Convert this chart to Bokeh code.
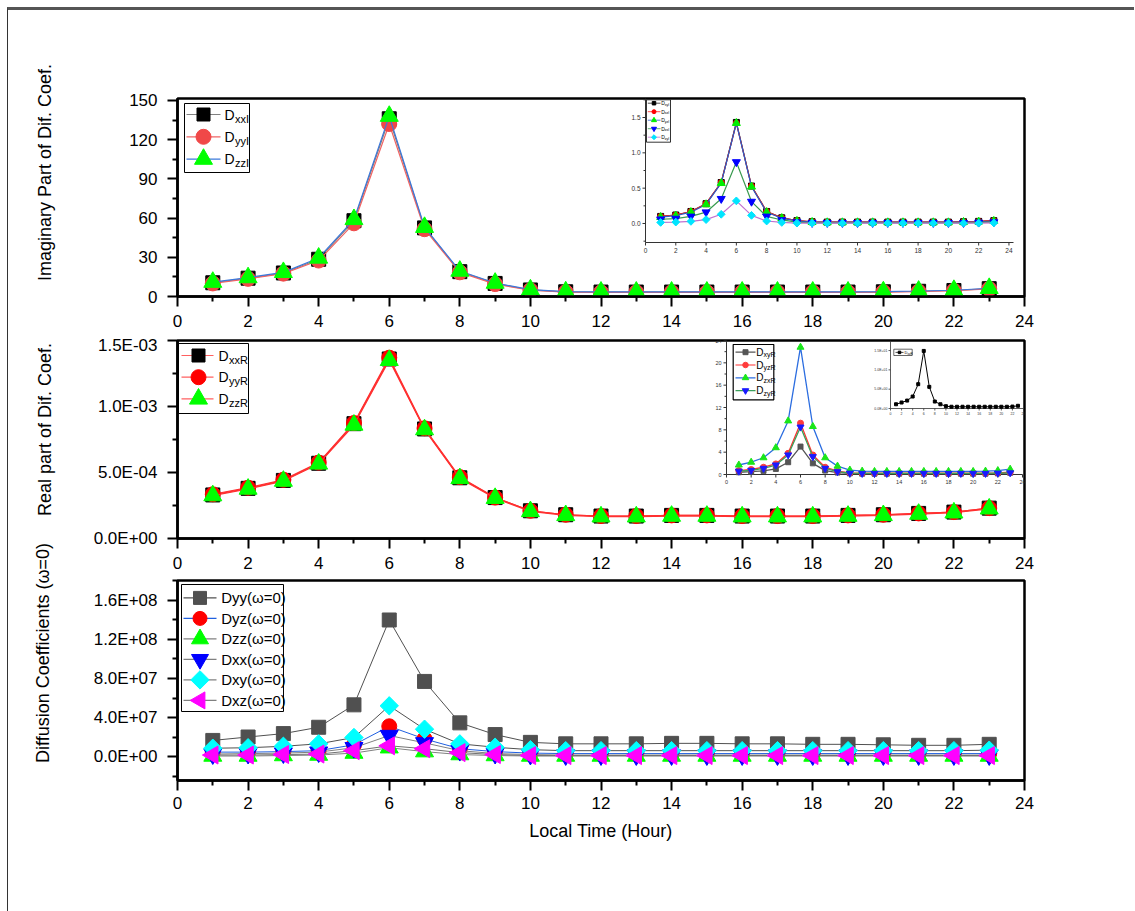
from bokeh.plotting import figure
from bokeh.layouts import column
from bokeh.models import Range1d, FixedTicker, CustomJSTickFormatter
from bokeh.core.properties import value
from bokeh.embed import file_html
from bokeh.resources import INLINE

FONT = "Liberation Sans"
NB = "\u00a0"

# ---------------- data ----------------
hours = [1, 2, 3, 4, 5, 6, 7, 8, 9, 10, 11, 12, 13, 14, 15, 16, 17, 18, 19, 20, 21, 22, 23]
x_major = [0, 2, 4, 6, 8, 10, 12, 14, 16, 18, 20, 22, 24]
x_minor = [1, 3, 5, 7, 9, 11, 13, 15, 17, 19, 21, 23]
x_labels = ["0", "2", "4", "6", "8", "10", "12", "14", "16", "18", "20", "22", "24"]

# panel 1 : imaginary part (diagonal)
p1_names = [("D", "xxI"), ("D", "yyI"), ("D", "zzI")]
dxxI = [10.5, 14, 18, 28.5, 58, 136, 52.5, 19, 10, 5, 3.6, 3.4, 3.4, 3.4, 3.4, 3.4, 3.4, 3.4, 3.4, 3.6, 4.0, 4.6, 6.0]
dyyI = [10, 13.5, 17.5, 27.5, 56, 132, 51.5, 18.5, 9.5, 4.8, 3.4, 3.2, 3.2, 3.2, 3.2, 3.2, 3.2, 3.2, 3.2, 3.4, 3.8, 4.4, 5.8]
dzzI = [11, 14.5, 18.5, 29.5, 59, 138, 53, 19.5, 10.3, 5.2, 3.7, 3.5, 3.5, 3.5, 3.5, 3.5, 3.5, 3.5, 3.5, 3.7, 4.2, 4.8, 6.3]
p1_yticks = [0, 30, 60, 90, 120, 150]
p1_yminor = [15, 45, 75, 105, 135]

# inset of panel 1 : imaginary part (off-diagonal)
i1_names = [("D", "xyI"), ("D", "xzI"), ("D", "yzI"), ("D", "zxI"), ("D", "zyI")]
i1_a = [0.10, 0.12, 0.17, 0.28, 0.58, 1.43, 0.53, 0.17, 0.08, 0.04, 0.025, 0.02, 0.02, 0.02, 0.02, 0.02, 0.02, 0.02, 0.02, 0.02, 0.025, 0.03, 0.04]
i1_b = [0.10, 0.12, 0.17, 0.28, 0.58, 1.42, 0.53, 0.17, 0.08, 0.04, 0.025, 0.02, 0.02, 0.02, 0.02, 0.02, 0.02, 0.02, 0.02, 0.02, 0.025, 0.03, 0.04]
i1_c = [0.09, 0.11, 0.16, 0.27, 0.57, 1.42, 0.52, 0.16, 0.075, 0.035, 0.02, 0.015, 0.015, 0.015, 0.015, 0.015, 0.015, 0.015, 0.015, 0.015, 0.02, 0.025, 0.035]
i1_d = [0.06, 0.07, 0.10, 0.16, 0.35, 0.87, 0.31, 0.10, 0.05, 0.02, 0.01, 0.01, 0.01, 0.01, 0.01, 0.01, 0.01, 0.01, 0.01, 0.01, 0.01, 0.015, 0.02]
i1_e = [0.015, 0.02, 0.03, 0.055, 0.13, 0.32, 0.115, 0.035, 0.015, 0.005, 0.005, 0.005, 0.005, 0.005, 0.005, 0.005, 0.005, 0.005, 0.005, 0.005, 0.005, 0.005, 0.008]
i1_yticks = [0.0, 0.5, 1.0, 1.5]
i1_ylabels = ["0.0", "0.5", "1.0", "1.5"]
i1_yminor = [-0.25, 0.25, 0.75, 1.25, 1.75]

# panel 2 : real part (diagonal)
p2_names = [("D", "xxR"), ("D", "yyR"), ("D", "zzR")]
dxxR = [3.30e-4, 3.80e-4, 4.40e-4, 5.70e-4, 8.70e-4, 1.360e-3, 8.30e-4, 4.60e-4, 3.10e-4, 2.10e-4, 1.80e-4, 1.70e-4, 1.70e-4, 1.75e-4, 1.75e-4, 1.70e-4, 1.70e-4, 1.70e-4, 1.75e-4, 1.80e-4, 1.90e-4, 2.00e-4, 2.30e-4]
dyyR = [3.35e-4, 3.85e-4, 4.45e-4, 5.75e-4, 8.75e-4, 1.370e-3, 8.35e-4, 4.65e-4, 3.10e-4, 2.10e-4, 1.80e-4, 1.70e-4, 1.70e-4, 1.75e-4, 1.75e-4, 1.70e-4, 1.70e-4, 1.70e-4, 1.75e-4, 1.80e-4, 1.90e-4, 2.00e-4, 2.30e-4]
dzzR = [3.25e-4, 3.75e-4, 4.35e-4, 5.65e-4, 8.60e-4, 1.350e-3, 8.25e-4, 4.55e-4, 3.05e-4, 2.05e-4, 1.75e-4, 1.65e-4, 1.65e-4, 1.70e-4, 1.70e-4, 1.65e-4, 1.65e-4, 1.65e-4, 1.70e-4, 1.75e-4, 1.85e-4, 1.95e-4, 2.25e-4]
p2_yticks = [0.0, 5.0e-4, 1.0e-3, 1.5e-3]
p2_yminor = [2.5e-4, 7.5e-4, 1.25e-3]

# inset of panel 2 : real part (off-diagonal)
i2_names = [("D", "xyR"), ("D", "yzR"), ("D", "zxR"), ("D", "zyR")]
r_xy = [0.4, 0.5, 0.65, 1.0, 2.2, 5.0, 2.0, 0.7, 0.35, 0.2, 0.15, 0.15, 0.15, 0.15, 0.15, 0.15, 0.15, 0.15, 0.15, 0.15, 0.15, 0.2, 0.3]
r_yz = [0.7, 0.9, 1.3, 1.9, 3.8, 9.2, 3.5, 1.3, 0.6, 0.3, 0.25, 0.25, 0.25, 0.25, 0.25, 0.25, 0.25, 0.25, 0.25, 0.25, 0.25, 0.3, 0.4]
r_zx = [1.7, 2.2, 3.0, 4.8, 9.6, 22.8, 8.6, 3.0, 1.5, 0.8, 0.6, 0.55, 0.55, 0.55, 0.55, 0.55, 0.55, 0.55, 0.55, 0.55, 0.6, 0.7, 0.95]
r_zy = [0.6, 0.75, 1.1, 1.7, 3.5, 8.5, 3.2, 1.1, 0.5, 0.25, 0.2, 0.2, 0.2, 0.2, 0.2, 0.2, 0.2, 0.2, 0.2, 0.2, 0.2, 0.25, 0.3]
i2_yticks = [0, 4, 8, 12, 16, 20, 24]
i2_ylabels = ["0", "4", "8", "12", "16", "20", "24"]
i2_yminor = [2, 6, 10, 14, 18, 22]

# small inset inside inset 2
s_name = ("D", "xzR")
s_xz = [1.1, 1.55, 2.05, 3.1, 6.3, 14.9, 5.6, 1.8, 1.1, 0.6, 0.45, 0.45, 0.45, 0.45, 0.45, 0.45, 0.45, 0.45, 0.45, 0.45, 0.45, 0.5, 0.7]
s_yticks = [0, 5, 10, 15]
s_ylabels = ["0.0E+00", "5.0E+00", "1.0E+01", "1.5E+01"]

# panel 3 : static diffusion coefficients
p3_names = ["Dyy(\u03c9=0)", "Dyz(\u03c9=0)", "Dzz(\u03c9=0)", "Dxx(\u03c9=0)", "Dxy(\u03c9=0)", "Dxz(\u03c9=0)"]
dyy0 = [1.65e7, 2.0e7, 2.35e7, 3.0e7, 5.3e7, 1.40e8, 7.7e7, 3.45e7, 2.25e7, 1.45e7, 1.3e7, 1.3e7, 1.3e7, 1.35e7, 1.35e7, 1.3e7, 1.3e7, 1.25e7, 1.25e7, 1.2e7, 1.15e7, 1.15e7, 1.25e7]
dyz0 = [4.5e6, 4.5e6, 5.0e6, 6.0e6, 1.2e7, 3.1e7, 1.8e7, 8.0e6, 5.0e6, 3.5e6, 3.0e6, 3.0e6, 3.0e6, 3.0e6, 3.0e6, 3.0e6, 3.0e6, 3.0e6, 3.0e6, 3.0e6, 3.0e6, 3.0e6, 3.0e6]
dzz0 = [5.0e5, 5.0e5, 1.0e6, 1.5e6, 3.5e6, 9.0e6, 5.0e6, 2.0e6, 1.0e6, 5.0e5, 5.0e5, 5.0e5, 5.0e5, 5.0e5, 5.0e5, 5.0e5, 5.0e5, 5.0e5, 5.0e5, 5.0e5, 5.0e5, 5.0e5, 5.0e5]
dxx0 = [2.5e6, 3.0e6, 3.5e6, 4.5e6, 9.0e6, 2.15e7, 1.4e7, 6.0e6, 3.0e6, 2.0e6, 1.5e6, 1.5e6, 1.5e6, 1.5e6, 1.5e6, 1.5e6, 1.5e6, 1.5e6, 1.5e6, 1.5e6, 1.5e6, 1.5e6, 1.5e6]
dxy0 = [8.5e6, 9.0e6, 1.05e7, 1.3e7, 1.95e7, 5.2e7, 2.8e7, 1.3e7, 9.5e6, 7.0e6, 6.0e6, 6.0e6, 6.0e6, 6.0e6, 6.0e6, 6.0e6, 6.0e6, 6.0e6, 6.0e6, 6.0e6, 6.0e6, 6.0e6, 6.5e6]
dxz0 = [1.5e6, 1.5e6, 2.0e6, 2.5e6, 6.0e6, 1.1e7, 8.0e6, 4.0e6, 2.0e6, 1.0e6, 1.0e6, 1.0e6, 1.0e6, 1.0e6, 1.0e6, 1.0e6, 1.0e6, 1.0e6, 1.0e6, 1.0e6, 1.0e6, 1.0e6, 1.0e6]
p3_yticks = [0.0, 4.0e7, 8.0e7, 1.2e8, 1.6e8]
p3_yminor = [-2.0e7, 2.0e7, 6.0e7, 1.0e8, 1.4e8, 1.8e8]

# ---------------- helpers ----------------
SCI_JS = """
const s = tick.toExponential(1).toUpperCase();
const parts = s.split("E");
let e = parts[1];
const sign = e[0] === "-" ? "-" : "+";
e = e.replace("+", "").replace("-", "");
if (e.length < 2) { e = "0" + e; }
return parts[0] + "E" + sign + e;
"""

MBL, FW, RPAD = 169, 847, 110


def make_fig(mbt, fh, mbb, yr, **extra):
    p = figure(width=MBL + FW + RPAD, height=mbt + fh + mbb, x_range=Range1d(0, 24), y_range=yr,
               output_backend="svg", toolbar_location=None,
               min_border_left=MBL, min_border_right=RPAD,
               min_border_top=mbt, min_border_bottom=mbb, **extra)
    p.border_fill_color = None
    p.border_fill_alpha = 0
    p.background_fill_color = "white"
    p.outline_line_color = "black"
    p.outline_line_width = 2.5
    p.xgrid.visible = False
    p.ygrid.visible = False
    p.extra_x_ranges = {"px": Range1d(0, FW)}
    p.extra_y_ranges = {"py": Range1d(fh, 0)}
    p.xaxis.ticker = FixedTicker(ticks=x_major, minor_ticks=x_minor)
    for ax in (p.xaxis[0], p.yaxis[0]):
        ax.axis_line_width = 2.5
        ax.axis_line_color = "black"
        ax.major_tick_line_width = 2
        ax.minor_tick_line_width = 2
        ax.major_tick_out = 10
        ax.major_tick_in = 0
        ax.minor_tick_out = 5
        ax.minor_tick_in = 0
        ax.major_label_text_font = FONT
        ax.major_label_text_font_size = "17px"
        ax.major_label_text_color = "black"
        ax.axis_label_text_font = FONT
        ax.axis_label_text_font_style = "normal"
        ax.axis_label_text_font_size = "18px"
        ax.axis_label_text_color = "black"
    p.xaxis.major_label_standoff = 8
    p.yaxis.major_label_standoff = 10
    return p


def series(p, ys, lc, lw, marker, ms, fc, angle=0.0, **kw):
    p.line(hours, ys, line_color=lc, line_width=lw, **kw)
    p.scatter(hours, ys, marker=marker, size=ms, fill_color=fc, line_color=fc, angle=angle, **kw)


PX = dict(x_range_name="px", y_range_name="py")


def legend(p, bx, by, bw, bh, first, pitch, lx0, lx1, mx, tx, entries, fmain, fsub=None,
           sub_dx=0.0, sub_dy=0.0, border_w=1.0, lw=1.2):
    p.quad(left=[bx], right=[bx + bw], top=[by], bottom=[by + bh],
           fill_color="white", line_color="black", line_width=border_w, **PX)
    for i, e in enumerate(entries):
        y = by + first + i * pitch
        p.line([bx + lx0, bx + lx1], [y, y], line_color=e["lc"], line_width=lw, **PX)
        p.scatter([bx + mx], [y], marker=e["m"], size=e["s"], fill_color=e["fc"],
                  line_color=e["fc"], angle=e.get("a", 0.0), **PX)
        p.text([bx + tx], [y], text=[e["t"]], text_font=value(FONT), text_font_size=value(fmain),
               text_baseline="middle", text_align="left", text_color="black", **PX)
        if e.get("sub"):
            p.text([bx + tx + sub_dx], [y + sub_dy], text=[e["sub"]], text_font=value(FONT),
                   text_font_size=value(fsub), text_baseline="middle", text_align="left",
                   text_color="black", **PX)


def inset(p, fh, name, a, b, t, bt, xr, yr, yticks, ylabels, yminor, font, tick, mtick, stand,
          lw=1.0, color="#333333"):
    """Inset layer inside the frame of p: frame pixels a..b (x), t..bt (y, from top)."""
    x0, x1 = xr
    y0, y1 = yr
    sx = (x1 - x0) / (b - a)
    sy = (y1 - y0) / (bt - t)
    yb = fh - bt
    p.extra_x_ranges[name + "x"] = Range1d(x0 - a * sx, x0 + (FW - a) * sx)
    p.extra_y_ranges[name + "y"] = Range1d(y0 - yb * sy, y0 + (fh - yb) * sy)
    p.segment(x0=[a, a], y0=[t, bt], x1=[a, b], y1=[bt, bt], line_color=color, line_width=lw, **PX)
    xs = [a + (v - x0) / sx for v in x_major]
    n = len(xs)
    p.segment(x0=xs, y0=[bt] * n, x1=xs, y1=[bt + tick] * n, line_color=color, line_width=lw, **PX)
    p.text(x=xs, y=[bt + tick + stand] * n, text=x_labels, text_font=value(FONT),
           text_font_size=value(font), text_align="center", text_baseline="top",
           text_color=color, **PX)
    ys = [bt - (v - y0) / sy for v in yticks]
    m = len(ys)
    p.segment(x0=[a - tick] * m, y0=ys, x1=[a] * m, y1=ys, line_color=color, line_width=lw, **PX)
    p.text(x=[a - tick - stand] * m, y=ys, text=ylabels, text_font=value(FONT),
           text_font_size=value(font), text_align="right", text_baseline="middle",
           text_color=color, **PX)
    ym = [bt - (v - y0) / sy for v in yminor if y0 <= v <= y1]
    k = len(ym)
    if k:
        p.segment(x0=[a - mtick] * k, y0=ym, x1=[a] * k, y1=ym, line_color=color, line_width=lw, **PX)
    return dict(x_range_name=name + "x", y_range_name=name + "y")


LEFT_TRI = 1.5707963267948966
DIAM = 0.7853981633974483

# ---------------- panel 1 ----------------
p1 = make_fig(88, 198, 39, Range1d(0, 151.5))
p1.yaxis.ticker = FixedTicker(ticks=p1_yticks, minor_ticks=p1_yminor)
p1.yaxis.axis_label = NB * 10 + "Imaginary Part of Dif. Coef."
p1.yaxis.axis_label_standoff = 71
series(p1, dxxI, "#808080", 1.2, "square", 14, "black")
series(p1, dyyI, "#f06464", 1.2, "circle", 15, "#f04848")
series(p1, dzzI, "#3c78dc", 1.2, "triangle", 18, "#00ff00")
legend(p1, 7, 5, 65, 69, 11, 22.3, 2, 36, 19, 40,
       [dict(lc="#808080", m="square", s=13, fc="black", t=p1_names[0][0], sub=p1_names[0][1]),
        dict(lc="#f06464", m="circle", s=15, fc="#f04848", t=p1_names[1][0], sub=p1_names[1][1]),
        dict(lc="#3c78dc", m="triangle", s=18, fc="#00ff00", t=p1_names[2][0], sub=p1_names[2][1])],
       "14px", "11px", 10.5, 4)

k1 = inset(p1, 198, "i1", 468, 836, 0, 144, (0, 24.3), (-0.269, 1.769),
           i1_yticks, i1_ylabels, i1_yminor, "6.5px", 3, 2, 2)
series(p1, i1_a, "#222222", 1.2, "square", 6, "black", **k1)
series(p1, i1_b, "#ff2020", 1.2, "circle", 6, "#ff0000", **k1)
series(p1, i1_c, "#2a5cc8", 1.2, "triangle", 8, "#00ee00", **k1)
series(p1, i1_d, "#3a9a50", 1.2, "inverted_triangle", 8, "#0000ff", **k1)
series(p1, i1_e, "#c070d0", 1.2, "square", 5.5, "#00e5ff", angle=DIAM, **k1)
legend(p1, 469, 1.3, 24, 42.4, 3.4, 8.5, 1.3, 14, 7.5, 14.7,
       [dict(lc="#222222", m="square", s=3.5, fc="black", t="D", sub=i1_names[0][1]),
        dict(lc="#ff2020", m="circle", s=4, fc="#ff0000", t="D", sub=i1_names[1][1]),
        dict(lc="#2a5cc8", m="triangle", s=5, fc="#00ee00", t="D", sub=i1_names[2][1]),
        dict(lc="#3a9a50", m="inverted_triangle", s=5, fc="#0000ff", t="D", sub=i1_names[3][1]),
        dict(lc="#c070d0", m="square", s=3.5, fc="#00e5ff", a=DIAM, t="D", sub=i1_names[4][1])],
       "5px", "3.5px", 3.6, 1.3, border_w=0.8, lw=0.8)

# ---------------- panel 2 ----------------
p2 = make_fig(5, 198, 39, Range1d(0, 1.5e-3))
p2.yaxis.ticker = FixedTicker(ticks=p2_yticks, minor_ticks=p2_yminor)
p2.yaxis.formatter = CustomJSTickFormatter(code=SCI_JS)
p2.yaxis.axis_label = NB * 4 + "Real part of Dif. Coef."
p2.yaxis.axis_label_standoff = 36
series(p2, dxxR, "#ff3030", 1.2, "square", 14, "black")
series(p2, dyyR, "#ff3030", 1.2, "circle", 15, "#ff0000")
series(p2, dzzR, "#ff3030", 1.2, "triangle", 18, "#00ff00")
legend(p2, 1, 3, 70, 70, 12, 21.7, 3, 35, 20, 40,
       [dict(lc="#ff6060", m="square", s=13, fc="black", t="D", sub=p2_names[0][1]),
        dict(lc="#ff6060", m="circle", s=15, fc="#ff0000", t="D", sub=p2_names[1][1]),
        dict(lc="#ff6060", m="triangle", s=18, fc="#00ff00", t="D", sub=p2_names[2][1])],
       "14px", "11px", 10.5, 4)

k2 = inset(p2, 198, "i2", 549, 845, 0, 134, (0, 24), (0, 24),
           i2_yticks, i2_ylabels, i2_yminor, "5.5px", 3, 2, 2)
series(p2, r_xy, "#555555", 1.3, "square", 5, "#555555", **k2)
series(p2, r_yz, "#ff3030", 1.3, "circle", 6, "#ff3b3b", **k2)
series(p2, r_zx, "#2b6de0", 1.3, "triangle", 7, "#19e619", **k2)
series(p2, r_zy, "#3aa05a", 1.3, "inverted_triangle", 7, "#1a1aff", **k2)
legend(p2, 555.7, 4, 40.6, 55.3, 7.7, 12.8, 2.3, 22.3, 12.3, 23,
       [dict(lc="#555555", m="square", s=5, fc="#555555", t="D", sub=i2_names[0][1]),
        dict(lc="#ff3030", m="circle", s=5.5, fc="#ff3b3b", t="D", sub=i2_names[1][1]),
        dict(lc="#2b6de0", m="triangle", s=6.5, fc="#19e619", t="D", sub=i2_names[2][1]),
        dict(lc="#3aa05a", m="inverted_triangle", s=6.5, fc="#1a1aff", t="D", sub=i2_names[3][1])],
       "10px", "7px", 7.3, 2.5, border_w=1.2, lw=1.2)

k3 = inset(p2, 198, "s2", 713, 846, 0, 68, (0, 24), (0, 17.6),
           s_yticks, s_ylabels, [], "3.5px", 2, 1, 1, lw=0.8)
series(p2, s_xz, "black", 1.0, "square", 3, "black", **k3)
legend(p2, 716.3, 8.7, 18.4, 6.3, 3.2, 0, 1.7, 9.7, 5.7, 10.7,
       [dict(lc="black", m="square", s=2.5, fc="black", t="D", sub=s_name[1])],
       "4px", "3px", 3, 1, border_w=0.6, lw=0.7)

# ---------------- panel 3 (overlaps the bottom of panel 2 by 40 px, transparent border) ----------------
p3 = make_fig(43, 200, 170, Range1d(-2.46e7, 1.805e8), margin=(-40, 0, 0, 0))
p3.yaxis.ticker = FixedTicker(ticks=p3_yticks, minor_ticks=p3_yminor)
p3.xaxis.major_label_standoff = 6
p3.yaxis.formatter = CustomJSTickFormatter(code=SCI_JS)
p3.yaxis.axis_label = NB * 11 + "Diffusion Coefficients (\u03c9=0)"
p3.yaxis.axis_label_standoff = 38
p3.xaxis.axis_label = "Local Time (Hour)"
p3.xaxis.axis_label_standoff = 9
series(p3, dyy0, "#505050", 1.0, "square", 14, "#505050")
series(p3, dyz0, "#2060e0", 1.0, "circle", 15, "#ff0000")
series(p3, dzz0, "#808080", 1.0, "triangle", 18, "#00ff00")
series(p3, dxx0, "#808080", 1.0, "inverted_triangle", 18, "#0000ff")
series(p3, dxy0, "#505050", 1.0, "square", 13, "#00ffff", angle=DIAM)
series(p3, dxz0, "#707070", 1.0, "triangle", 18, "#ff00ff", angle=LEFT_TRI)
legend(p3, 4, 4, 102, 127, 13.4, 20.5, 2, 35, 18.5, 39.7,
       [dict(lc="#505050", m="square", s=13, fc="#505050", t=p3_names[0]),
        dict(lc="#2060e0", m="circle", s=14, fc="#ff0000", t=p3_names[1]),
        dict(lc="#808080", m="triangle", s=17, fc="#00ff00", t=p3_names[2]),
        dict(lc="#808080", m="inverted_triangle", s=17, fc="#0000ff", t=p3_names[3]),
        dict(lc="#808080", m="square", s=13, fc="#00ffff", a=DIAM, t=p3_names[4]),
        dict(lc="#808080", m="triangle", s=17, fc="#ff00ff", a=LEFT_TRI, t=p3_names[5])],
       "15px")

page = column(p1, p2, p3, spacing=0, margin=(7, 0, 0, 7),
              styles={"border-top": "3px solid #555555", "border-left": "1px solid #333333"})

open("out.html", "w").write(file_html(page, INLINE))
